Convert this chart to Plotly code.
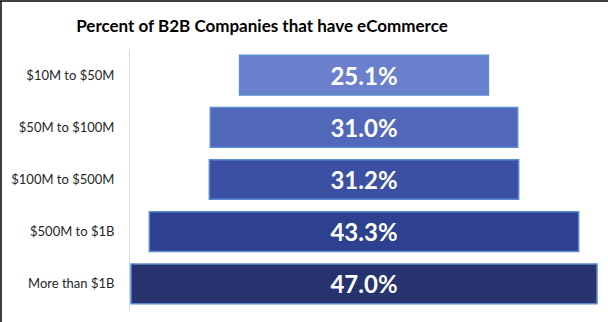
import plotly.graph_objects as go

categories = ["$10M to $50M", "$50M to $100M", "$100M to $500M", "$500M to $1B", "More than $1B"]
values = [25.1, 31.0, 31.2, 43.3, 47.0]
bar_colors = ["#6A80CC", "#5167BA", "#3B50A2", "#2E4190", "#27336E"]

fig = go.Figure(go.Funnel(
    y=categories,
    x=values,
    texttemplate="%{x:.1f}%",
    textposition="inside",
    insidetextanchor="middle",
    textfont=dict(family="Lato", size=24, color="white", weight="bold"),
    marker=dict(color=bar_colors, line=dict(color="#5B8BD0", width=1.5)),
    connector=dict(visible=False),
    hoverinfo="x+y",
))

fig.update_layout(
    width=608, height=322,
    margin=dict(l=130, r=10, t=49, b=12),
    paper_bgcolor="white", plot_bgcolor="white",
    funnelgap=0.24,
    showlegend=False,
    title=dict(text="<b>Percent of B2B Companies that have eCommerce</b>",
               x=262/608, xanchor="center", y=1-26/322, yanchor="middle",
               font=dict(family="Lato", size=17, color="black")),
    xaxis=dict(range=[-23.6, 23.6], visible=False),
    yaxis=dict(showline=True, linecolor="#D9D9D9", linewidth=1,
               ticks="", ticklabelstandoff=12,
               tickfont=dict(family="Lato", size=13, color="#262626")),
    shapes=[
        dict(type="line", xref="paper", yref="paper", x0=-130/468, x1=1.05, y0=1+48/261, y1=1+48/261,
             line=dict(color="black", width=1.5)),
        dict(type="line", xref="paper", yref="paper", x0=-129/468, x1=-129/468, y0=-0.1, y1=1+48/261,
             line=dict(color="black", width=1.5)),
    ],
)

fig.write_html("out.html")
